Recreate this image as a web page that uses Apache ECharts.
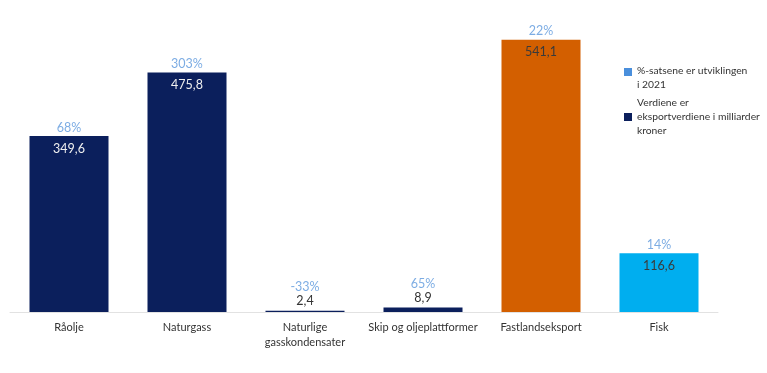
<!DOCTYPE html>
<html><head><meta charset="utf-8">
<script src="https://cdn.jsdelivr.net/npm/echarts@6/dist/echarts.min.js"></script>
<style>html,body{margin:0;padding:0;background:#fff}#c{width:767px;height:373px}</style>
</head><body><div id="c"></div>
<script>
const categories = ['Råolje', 'Naturgass', 'Naturlige\ngasskondensater', 'Skip og oljeplattformer', 'Fastlandseksport', 'Fisk'];
const values = [349.6, 475.8, 2.4, 8.9, 541.1, 116.6];
const percents = ['68%', '303%', '-33%', '65%', '22%', '14%'];
const barColors = ['#0b1f5c', '#0b1f5c', '#0b1f5c', '#0b1f5c', '#d35f00', '#00aeef'];
const valueLabelColors = ['#f0f0f0', '#f0f0f0', '#333333', '#333333', '#3a3a3a', '#3a3a3a'];
const legendTexts = ['%-satsene er utviklingen\ni 2021', 'Verdiene er\neksportverdiene i milliarder\nkroner'];
const legendColors = ['#4a8fdc', '#0b1f5c'];

const FONT = 'Lato';
const fmt = v => String(v).replace('.', ',');
const small = v => v < 30;

const chart = echarts.init(document.getElementById('c'), null, {renderer: 'canvas'});
chart.setOption({
  animation: false,
  textStyle: {fontFamily: FONT},
  grid: {left: 10, right: 49, top: 10, bottom: 61, containLabel: false},
  xAxis: {
    type: 'category', data: categories,
    axisLine: {lineStyle: {color: '#e2e2e2', width: 1}},
    axisTick: {show: false},
    axisLabel: {color: '#333', fontSize: 11, fontFamily: FONT, margin: 8, lineHeight: 15, interval: 0}
  },
  yAxis: {type: 'value', min: 0, max: 600, show: false, splitLine: {show: false}},
  series: [
    {
      type: 'bar', barWidth: 79,
      data: values.map((v, i) => ({
        value: v,
        itemStyle: {color: barColors[i]},
        label: {
          show: true,
          position: small(v) ? 'top' : 'insideTop',
          distance: small(v) ? 3 : 6,
          color: valueLabelColors[i],
          fontSize: 12.5, fontFamily: FONT,
          formatter: () => fmt(v)
        }
      }))
    },
    {
      type: 'scatter', symbolSize: 0,
      data: values.map((v, i) => ({
        value: v,
        label: {
          show: true, position: 'top',
          distance: small(v) ? 17 : 2,
          color: '#5b97dc', fontSize: 12.5, fontFamily: FONT,
          formatter: () => percents[i]
        }
      }))
    }
  ],
  graphic: [
    {type: 'rect', left: 624, top: 68, shape: {width: 8, height: 8}, style: {fill: legendColors[0]}},
    {type: 'text', left: 637, top: 64, style: {text: legendTexts[0], fill: '#333', font: '10.3px ' + FONT, lineHeight: 14}},
    {type: 'rect', left: 624, top: 113, shape: {width: 8, height: 8}, style: {fill: legendColors[1]}},
    {type: 'text', left: 637, top: 96, style: {text: legendTexts[1], fill: '#333', font: '10.3px ' + FONT, lineHeight: 14}}
  ]
});
</script></body></html>
